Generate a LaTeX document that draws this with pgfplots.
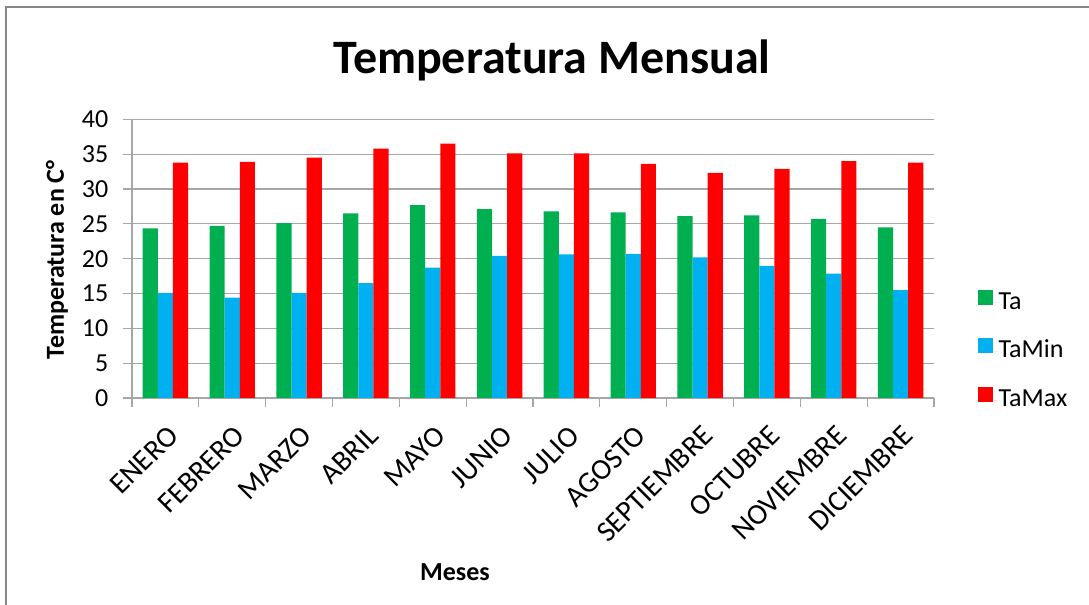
\documentclass[border=0pt]{standalone}
\usepackage{pgfplots}
\pgfplotsset{compat=1.18}
\usepackage{fontspec}
\setmainfont{Carlito}
\definecolor{cTa}{RGB}{0,176,80}
\definecolor{cMin}{RGB}{0,176,240}
\definecolor{cMax}{RGB}{255,0,0}
\definecolor{gridgray}{RGB}{166,166,166}
\definecolor{framegray}{RGB}{134,134,134}
\newcommand{\lbl}{\fontsize{19.5}{22}\selectfont}
\begin{document}
\begin{tikzpicture}
\path[use as bounding box] (0,0) rectangle (816.75pt,453.75pt);
\draw[framegray, line width=1pt] (4.5pt,0) -- (4.5pt,448.5pt) -- (816.75pt,448.5pt);
\node[font=\fontsize{36}{42}\selectfont\bfseries] at (414pt,408.75pt) {Temperatura Mensual};
\node[font=\lbl\bfseries, rotate=90] at (42.75pt,258.75pt) {Temperatura en C°};
\node[font=\lbl\bfseries] at (341.25pt,24.75pt) {Meses};
\begin{axis}[
    at={(99pt,155.25pt)}, anchor=south west,
    scale only axis,
    width=601.5pt, height=209pt,
    xmin=-0.5, xmax=11.5,
    ymin=0, ymax=40,
    ytick={0,5,...,40},
    xtick={0,...,11},
    xticklabels={ENERO,FEBRERO,MARZO,ABRIL,MAYO,JUNIO,JULIO,AGOSTO,SEPTIEMBRE,OCTUBRE,NOVIEMBRE,DICIEMBRE},
    minor xtick={-0.5,0.5,...,11.5},
    major x tick style={draw=none},
    tick align=outside,
    major tick length=6.75pt,
    minor tick length=6.75pt,
    tick style={gridgray, line width=0.9pt},
    axis x line*=bottom,
    axis y line*=left,
    axis line style={gridgray, line width=0.9pt, -},
    ymajorgrids=true,
    grid style={gridgray, line width=0.9pt},
    ticklabel style={font=\lbl},
    /pgf/number format/assume math mode=true,
    yticklabel style={xshift=-7.5pt},
    xticklabel style={rotate=45, anchor=north east, yshift=-6pt, xshift=-5pt, font=\fontsize{22}{24}\selectfont},
    ybar=0pt,
    bar width=0.2265,
    legend style={at={(rel axis cs:1.054,0.169)}, anchor=west, draw=none, fill=none,
        inner sep=0pt, row sep=18pt, font=\lbl,
        nodes={inner sep=0pt, text height=14pt, text depth=4pt}},
    legend cell align=left,
    legend image code/.code={\fill[#1] (0pt,-1.6pt) rectangle (11.25pt,9.6pt); \path (0pt,0pt) -- (15.75pt,0pt);},
]
\addplot[fill=cTa, draw=none] coordinates {(0,24.35)(1,24.7)(2,25.1)(3,26.5)(4,27.7)(5,27.1)(6,26.8)(7,26.65)(8,26.1)(9,26.2)(10,25.7)(11,24.5)};
\addplot[fill=cMin, draw=none] coordinates {(0,15.1)(1,14.4)(2,15.1)(3,16.5)(4,18.7)(5,20.4)(6,20.6)(7,20.7)(8,20.2)(9,18.95)(10,17.85)(11,15.5)};
\addplot[fill=cMax, draw=none] coordinates {(0,33.8)(1,33.9)(2,34.5)(3,35.8)(4,36.5)(5,35.1)(6,35.1)(7,33.6)(8,32.3)(9,32.9)(10,34.0)(11,33.8)};
\legend{Ta,TaMin,TaMax}
\end{axis}
\end{tikzpicture}
\end{document}
